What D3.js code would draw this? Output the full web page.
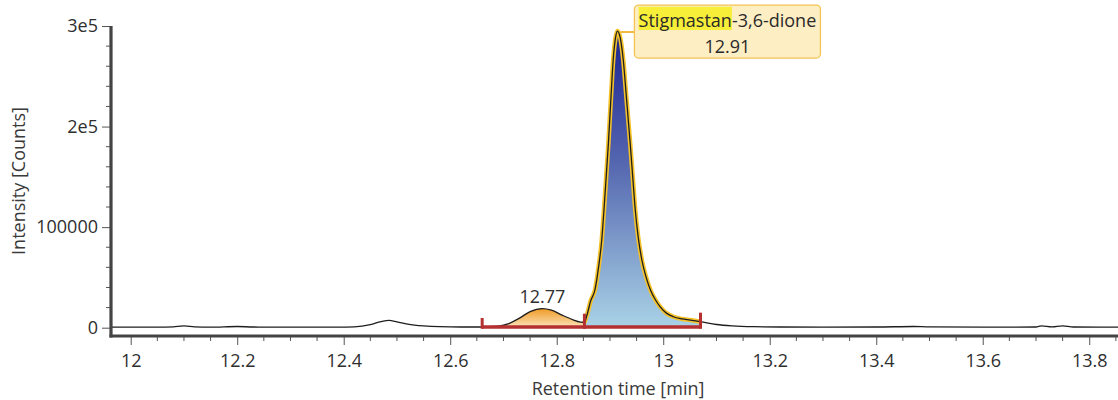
<!DOCTYPE html>
<html>
<head>
<meta charset="utf-8">
<script src="https://cdn.jsdelivr.net/npm/d3@7"></script>
<style>
  html, body { margin: 0; padding: 0; background: #fff; }
  svg { display: block; font-family: "Open Sans", "Noto Sans", sans-serif; }
</style>
</head>
<body>
<svg id="chart" width="1118" height="400"></svg>
<script>
// Chromatogram trace: retention time (min) and detector intensity (counts)
const traceTime = [
  11.963, 12.00, 12.05, 12.08, 12.10, 12.12, 12.15, 12.20, 12.23, 12.28, 12.33, 12.38,
  12.42, 12.45, 12.47, 12.485, 12.50, 12.52, 12.55, 12.58, 12.62, 12.66,
  12.69, 12.71, 12.73, 12.75, 12.773, 12.79, 12.81, 12.83, 12.845, 12.852,
  12.856, 12.864, 12.872, 12.878, 12.8845, 12.891, 12.897, 12.902, 12.906, 12.910,
  12.914, 12.919, 12.925, 12.931, 12.938, 12.943, 12.9475, 12.953, 12.96, 12.968,
  12.976, 12.985, 12.994, 13.006, 13.019, 13.035, 13.051, 13.07,
  13.10, 13.13, 13.17, 13.22, 13.30, 13.40, 13.47, 13.50, 13.60, 13.70,
  13.71, 13.73, 13.75, 13.77, 13.854
];
const traceCounts = [
  500, 600, 500, 900, 1800, 900, 600, 1200, 700, 600, 500, 600,
  900, 3000, 6000, 7200, 5800, 3600, 1800, 1000, 700, 700,
  1500, 4000, 9500, 16000, 19000, 17500, 12500, 8000, 5500, 5000,
  11000, 27000, 38000, 58000, 87000, 135000, 183000, 230000, 266000, 287000,
  295000, 289000, 266000, 228000, 183000, 148000, 117000, 90000, 67000, 50000,
  37500, 28000, 21000, 14500, 10900, 8800, 7600, 6000,
  3200, 1800, 1000, 700, 600, 700, 1200, 800, 600, 700,
  1800, 800, 1800, 700, 500
];

// Integrated peaks
const peakApex  = [12.773, 12.914];
const peakStart = [12.66, 12.852];
const peakEnd   = [12.852, 13.07];
const peakName  = ["", "Stigmastan"];
const peakNameSuffix = ["", "-3,6-dione"];
const integrationBaseline = 600;

// Axis ticks
const xMajorTicks = [12, 12.2, 12.4, 12.6, 12.8, 13, 13.2, 13.4, 13.6, 13.8];
const xMinorStep = 0.05;
const yMajorTicks = [0, 100000, 200000, 300000];
const yTickLabels = ["0", "100000", "2e5", "3e5"];
const yMinorStep = 20000;

const FONT = 18;
const svg = d3.select("#chart");

const x = d3.scaleLinear().domain([11.963, 13.854]).range([111, 1118]);
const y = d3.scaleLinear().domain([0, 300000]).range([327.7, 26]);
const xAxisY = 336;

const trace = traceTime.map((t, i) => ({ t, v: traceCounts[i] }));
const curve = d3.curveMonotoneX;

const defs = svg.append("defs");
const blueGrad = defs.append("linearGradient").attr("id", "gradMain")
  .attr("x1", 0).attr("y1", 0).attr("x2", 0).attr("y2", 1);
blueGrad.append("stop").attr("offset", "0%").attr("stop-color", "#1c2290");
blueGrad.append("stop").attr("offset", "45%").attr("stop-color", "#5567b0");
blueGrad.append("stop").attr("offset", "100%").attr("stop-color", "#a9d2e6");
const orangeGrad = defs.append("linearGradient").attr("id", "gradMinor")
  .attr("x1", 0).attr("y1", 0).attr("x2", 0).attr("y2", 1);
orangeGrad.append("stop").attr("offset", "0%").attr("stop-color", "#ef9a25");
orangeGrad.append("stop").attr("offset", "100%").attr("stop-color", "#fbe2b8");
const fills = ["url(#gradMinor)", "url(#gradMain)"];

// Peak fills between trace and integration baseline
const area = d3.area().curve(curve)
  .x(d => x(d.t)).y0(y(integrationBaseline)).y1(d => y(d.v));
const line = d3.line().curve(curve).x(d => x(d.t)).y(d => y(d.v));

peakStart.forEach((s, i) => {
  const seg = trace.filter(d => d.t >= s - 1e-9 && d.t <= peakEnd[i] + 1e-9);
  svg.append("path").attr("d", area(seg)).attr("fill", fills[i]);
  if (i === 1) {
    // highlighted outline of the selected peak
    svg.append("path").attr("d", line(seg)).attr("fill", "none")
      .attr("stroke", "#f4c22a").attr("stroke-width", 4.5).attr("stroke-linejoin", "round");
  }
});

// Full trace
svg.append("path").attr("d", line(trace)).attr("fill", "none")
  .attr("stroke", "#1e1e1e").attr("stroke-width", 1.3).attr("stroke-linejoin", "round");

// Integration baseline with boundary markers
const traceAt = t => {
  const i = traceTime.findIndex(v => Math.abs(v - t) < 1e-9);
  return traceCounts[i];
};
const red = "#b53131";
svg.append("line")
  .attr("x1", x(d3.min(peakStart))).attr("x2", x(d3.max(peakEnd)))
  .attr("y1", y(integrationBaseline)).attr("y2", y(integrationBaseline))
  .attr("stroke", red).attr("stroke-width", 3.5);
const bounds = Array.from(new Set(peakStart.concat(peakEnd)));
bounds.forEach(b => {
  const top = Math.min(y(traceAt(b)), y(integrationBaseline)) - 9;
  svg.append("line")
    .attr("x1", x(b)).attr("x2", x(b))
    .attr("y1", y(integrationBaseline) + 1.7).attr("y2", top)
    .attr("stroke", red).attr("stroke-width", 3);
});

// Axes
const yAxis = d3.axisLeft(y).tickValues(yMajorTicks).tickSize(9).tickPadding(4)
  .tickFormat((d, i) => yTickLabels[i]);
const gy = svg.append("g").attr("transform", "translate(111,0)").call(yAxis);
gy.select(".domain").remove();
gy.selectAll(".tick line").attr("stroke", "#555").attr("stroke-width", 1);
gy.selectAll(".tick text").attr("fill", "#2f2f2f").attr("font-size", FONT)
  .attr("font-family", "'Open Sans', sans-serif");
const yMinor = d3.range(0, 300001, yMinorStep).filter(v => v % 100000 !== 0);
gy.selectAll(".minor").data(yMinor).join("line").attr("class", "minor")
  .attr("x1", -5).attr("x2", 0).attr("y1", d => y(d)).attr("y2", d => y(d))
  .attr("stroke", "#555").attr("stroke-width", 1);

const xAxis = d3.axisBottom(x).tickValues(xMajorTicks).tickSize(9).tickPadding(9)
  .tickFormat(d => String(+d.toFixed(1)));
const gx = svg.append("g").attr("transform", `translate(0,${xAxisY})`).call(xAxis);
gx.select(".domain").remove();
gx.selectAll(".tick line").attr("stroke", "#555").attr("stroke-width", 1);
gx.selectAll(".tick text").attr("fill", "#2f2f2f").attr("font-size", FONT)
  .attr("font-family", "'Open Sans', sans-serif");
const xMinor = d3.range(12 - xMinorStep, 13.86, xMinorStep)
  .filter(v => v > x.domain()[0] && Math.abs(v / 0.2 - Math.round(v / 0.2)) > 1e-6);
gx.selectAll(".minor").data(xMinor).join("line").attr("class", "minor")
  .attr("x1", d => x(d)).attr("x2", d => x(d)).attr("y1", 0).attr("y2", 5)
  .attr("stroke", "#555").attr("stroke-width", 1);

// Thick axis lines
svg.append("line").attr("x1", 111).attr("x2", 111).attr("y1", y(300000)).attr("y2", xAxisY + 1.5)
  .attr("stroke", "#444").attr("stroke-width", 3.2);
svg.append("line").attr("x1", 109.5).attr("x2", 1118).attr("y1", xAxisY).attr("y2", xAxisY)
  .attr("stroke", "#444").attr("stroke-width", 3.2);

// Axis titles
svg.append("text").attr("x", 618).attr("y", 395).attr("text-anchor", "middle")
  .attr("font-size", FONT).attr("fill", "#3a3a3a").text("Retention time [min]");
svg.append("text").attr("transform", "translate(24.5,181) rotate(-90)")
  .attr("text-anchor", "middle").attr("font-size", FONT).attr("fill", "#3a3a3a")
  .text("Intensity [Counts]");

// Minor peak label
svg.append("text").attr("x", x(peakApex[0])).attr("y", y(traceAt(peakApex[0])) - 6)
  .attr("text-anchor", "middle").attr("font-size", FONT).attr("fill", "#2f2f2f")
  .text(peakApex[0].toFixed(2));

// Main peak callout
const ax = x(peakApex[1]), ay = y(traceAt(peakApex[1]));
const boxX = ax + 17, boxY = ay - 26, boxW = 186, boxH = 53;
svg.append("line").attr("x1", ax + 3).attr("x2", boxX).attr("y1", ay + 1).attr("y2", ay + 1)
  .attr("stroke", "#f2b942").attr("stroke-width", 2);
svg.append("rect").attr("x", boxX).attr("y", boxY).attr("width", boxW).attr("height", boxH)
  .attr("rx", 4).attr("fill", "#fdeec4").attr("stroke", "#f3c454").attr("stroke-width", 1.3);
const hl = svg.append("rect").attr("fill", "#f7ee3a");
const nameText = svg.append("text").attr("x", boxX + boxW / 2).attr("y", boxY + 21.5)
  .attr("text-anchor", "middle").attr("font-size", FONT).attr("fill", "#2a2a2a");
nameText.append("tspan").text(peakName[1]);
nameText.append("tspan").text(peakNameSuffix[1]);
const full = nameText.node().getComputedTextLength();
const nameLen = nameText.node().getSubStringLength(0, peakName[1].length);
hl.attr("x", boxX + boxW / 2 - full / 2).attr("y", boxY + 1.7)
  .attr("width", nameLen).attr("height", 23.3);
svg.append("text").attr("x", boxX + boxW / 2).attr("y", boxY + 48)
  .attr("text-anchor", "middle").attr("font-size", FONT).attr("fill", "#2a2a2a")
  .text(peakApex[1].toFixed(2));
</script>
</body>
</html>
